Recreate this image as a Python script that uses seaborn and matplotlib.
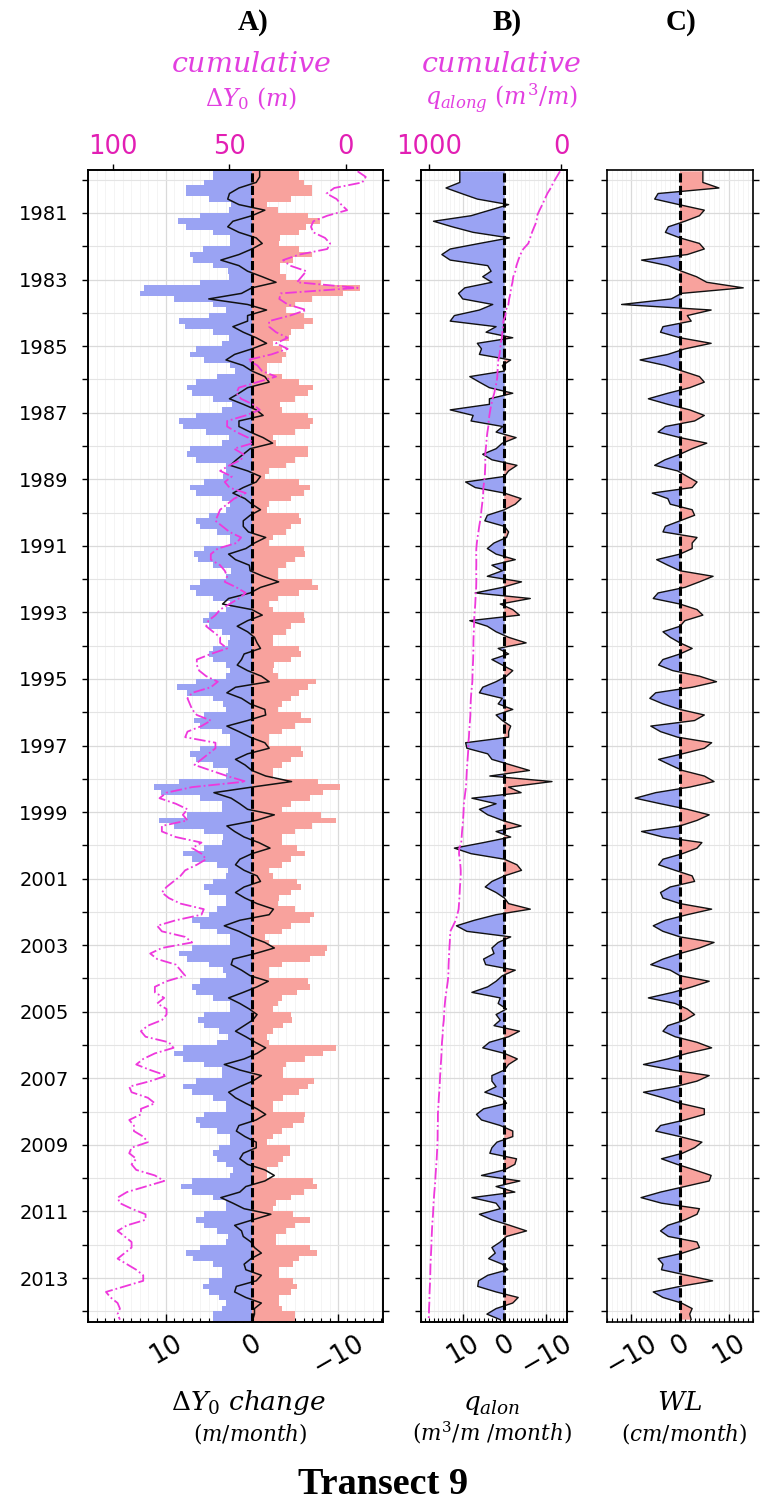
import numpy as np
import matplotlib
matplotlib.use("Agg")
import matplotlib.pyplot as plt
from matplotlib.ticker import FixedLocator, MultipleLocator, NullLocator, FuncFormatter
import seaborn as sns

# ---------------------------------------------------------------------------
# Two-monthly series, Sep 1979 ... Apr 2014 (one row per calendar year)
# ---------------------------------------------------------------------------
# Shoreline change envelope: accretion side (m/month)
dy_gain = np.array([
    4.5, 4.5,
    5.5, 7.6, 7.6, 5.0, 2.4, 2.6,
    6.0, 8.6, 7.6, 4.5, 2.5, 2.5,
    5.7, 7.2, 6.8, 4.5, 2.8, 2.6,
    6.0, 12.5, 13.0, 9.0, 4.5, 3.0,
    5.0, 8.4, 7.8, 4.5, 2.6, 3.5,
    6.5, 7.2, 5.5, 2.5, 2.0, 4.0,
    6.5, 7.5, 7.0, 4.5, 2.3, 3.5,
    6.5, 8.4, 8.0, 5.3, 2.6, 3.5,
    7.2, 7.5, 6.5, 3.0, 3.0, 3.4,
    5.5, 7.2, 6.5, 3.5, 2.5, 3.0,
    5.0, 6.5, 6.0, 4.0, 2.5, 2.5,
    5.5, 6.7, 6.2, 4.5, 2.4, 3.0,
    6.0, 7.2, 6.5, 4.5, 2.5, 3.0,
    5.0, 5.7, 5.0, 3.5, 2.5, 2.8,
    4.5, 5.0, 4.5, 3.0, 2.5, 3.0,
    6.5, 8.7, 7.5, 4.5, 3.3, 3.0,
    5.5, 6.7, 6.0, 3.5, 2.5, 2.5,
    6.0, 7.2, 6.5, 4.5, 2.8, 3.0,
    8.5, 11.3, 10.5, 6.0, 3.5, 3.5,
    7.5, 10.8, 9.0, 5.5, 3.3, 3.5,
    5.5, 8.0, 7.0, 4.0, 2.8, 3.0,
    4.5, 5.5, 5.0, 3.0, 3.0, 4.0,
    5.0, 7.0, 6.0, 4.0, 2.5, 2.5,
    7.0, 8.5, 7.5, 5.0, 3.3, 3.0,
    6.0, 7.0, 6.5, 4.5, 2.5, 2.5,
    5.5, 6.2, 5.5, 3.8, 2.8, 4.0,
    8.0, 9.0, 8.0, 5.5, 3.5, 3.5,
    6.5, 8.0, 7.0, 4.5, 3.0, 3.0,
    5.5, 6.5, 6.0, 4.0, 2.5, 2.5,
    3.8, 4.5, 4.0, 3.0, 2.2, 2.5,
    7.0, 8.2, 7.0, 4.5, 3.0, 3.0,
    5.5, 6.5, 5.5, 4.0, 2.8, 3.0,
    6.0, 7.6, 6.8, 4.5, 3.5, 3.5,
    5.0, 5.7, 5.0, 3.8, 3.0, 3.5,
    4.5, 4.5,
])

# Shoreline change envelope: erosion side (m/month)
dy_loss = np.array([
    -5.5, -5.5,
    -6.0, -7.0, -7.0, -4.5, -1.8, -3.0,
    -6.5, -7.9, -6.3, -5.5, -3.3, -3.2,
    -5.5, -7.0, -4.8, -3.3, -3.3, -4.0,
    -8.0, -12.5, -10.6, -7.0, -5.0, -4.0,
    -6.0, -7.1, -6.0, -4.5, -4.3, -2.5,
    -3.5, -4.0, -3.5, -1.8, -1.8, -3.5,
    -5.5, -7.1, -6.5, -5.0, -3.3, -3.5,
    -6.5, -7.1, -6.7, -5.0, -2.5, -2.8,
    -6.5, -6.5, -5.0, -4.0, -2.0, -1.5,
    -5.5, -6.7, -6.0, -4.5, -2.0, -1.8,
    -5.5, -5.7, -4.5, -4.0, -2.5, -2.0,
    -6.0, -6.2, -5.0, -4.0, -3.0, -3.0,
    -7.0, -7.7, -5.5, -3.0, -2.0, -2.5,
    -6.0, -6.2, -4.5, -4.0, -2.5, -2.5,
    -5.5, -5.7, -4.5, -2.6, -2.5, -3.0,
    -7.4, -6.5, -5.5, -4.5, -3.5, -3.0,
    -5.7, -6.9, -5.0, -3.5, -2.0, -2.0,
    -5.7, -5.9, -4.5, -3.5, -2.5, -2.5,
    -7.7, -10.2, -8.2, -6.7, -4.5, -3.5,
    -8.0, -9.7, -7.0, -5.0, -3.5, -3.5,
    -5.2, -6.2, -4.5, -3.5, -2.0, -2.5,
    -5.2, -5.7, -4.5, -3.2, -3.0, -5.0,
    -7.2, -6.7, -4.5, -3.5, -1.5, -2.0,
    -8.7, -8.5, -6.7, -3.5, -2.0, -2.0,
    -6.5, -6.7, -5.2, -3.5, -3.0, -2.5,
    -4.5, -4.6, -3.6, -2.5, -1.8, -2.0,
    -9.7, -8.2, -6.2, -4.0, -3.6, -3.6,
    -7.2, -6.5, -5.5, -3.6, -2.5, -2.5,
    -6.2, -6.0, -4.8, -3.5, -2.5, -1.8,
    -4.4, -4.4, -3.6, -3.0, -1.8, -1.8,
    -7.1, -7.5, -6.0, -4.5, -2.8, -2.5,
    -4.8, -6.7, -5.0, -4.0, -2.8, -2.8,
    -6.7, -7.5, -5.5, -4.8, -3.2, -3.2,
    -4.8, -5.2, -4.5, -3.2, -3.2, -3.5,
    -5.0, -5.0,
])

# Net shoreline change (m/month)
dy_net = np.array([
    -0.9, -0.9,
    -0.5, 1.5, 2.6, 2.8, 1.5, -1.5,
    0.0, 2.2, 2.8, 1.5, -0.5, -1.2,
    0.0, 1.5, 3.6, 1.5, 0.5, -1.2,
    -2.8, 0.0, 1.2, 5.0, 0.5, -1.7,
    0.5, 0.5, 2.2, 1.0, -0.5, -1.7,
    0.0, 2.0, 3.0, 1.0, 0.0, -1.5,
    -2.0, 0.5, 1.5, 2.6, 1.0, -0.5,
    -1.3, 1.5, 1.5, 0.2, -1.3, -2.4,
    0.2, 1.0, 1.8, 2.5, 0.5, -1.0,
    -0.5, 1.0, 2.2, 0.8, 0.0, -1.0,
    0.2, 1.0, 1.0, 0.4, -1.6, -0.3,
    0.7, 2.7, 1.9, 0.3, 0.2, -1.3,
    -3.1, -1.0, 0.2, 2.7, 3.4, 0.0,
    -1.2, 0.5, 1.7, 0.5, -0.3, -0.6,
    -1.0, 0.9, 1.2, 1.7, 0.5, -1.1,
    -2.0, 1.9, 2.9, 1.2, 0.2, -1.5,
    -1.6, 0.5, 2.9, 1.5, 0.2, -1.5,
    -2.0, 0.5, 1.9, 0.8, 0.0, -1.6,
    -4.6, 0.0, 4.4, 2.4, 1.4, 0.5,
    -2.6, -0.5, 2.9, 2.0, 0.9, -0.8,
    -2.1, 0.0, 1.4, 1.9, 0.9, -0.6,
    -1.0, 0.9, 1.9, 0.8, -0.6, -2.5,
    -2.0, 1.4, 3.2, 1.5, 0.2, -1.5,
    -2.6, -0.4, 2.2, 2.4, 1.2, 0.2,
    -1.9, -0.6, 1.0, 2.7, 1.4, 0.3,
    -0.6, -0.1, 0.9, 1.9, 0.7, -0.4,
    -1.6, -0.6, 0.9, 3.2, 1.4, -1.1,
    -0.1, 1.4, 2.7, 1.9, 0.7, -0.6,
    -1.6, -0.5, 1.5, 1.8, 0.8, -0.5,
    -0.5, 1.0, 1.4, 0.5, -1.5, -2.6,
    -1.5, 0.7, 1.4, 3.6, 2.2, 0.9,
    -2.2, -0.1, 2.0, 1.2, 1.0, 0.1,
    -0.3, -1.1, 0.1, 0.9, 0.7, -1.1,
    -0.5, 1.8, 2.0, 0.7, -1.1, -0.3,
    -0.3, -0.1,
])

# Cumulative shoreline change (m)
dy_cum = np.array([
    -5, -8.5,
    -7, 5, 8.3, 4, 2, -0.5,
    8, 14, 15, 14, 9, 6.8,
    8, 20, 27, 24, 17, 19,
    21, -5, 28, 28.6, 25, 17,
    24, 33, 33, 30, 25, 30,
    25, 32, 42, 38, 36, 30,
    38, 46, 47, 45, 40, 37,
    43, 51, 51, 47, 42, 40,
    48, 44, 45, 50, 54, 49,
    52, 50, 43, 48, 51, 54,
    55, 56, 53, 50, 45, 47,
    55, 58, 58, 54, 52, 51,
    52, 47, 43, 46, 50, 54,
    56, 59, 60, 57, 54, 54,
    51, 58, 64, 64, 63, 60,
    55, 58, 66, 68, 67, 66,
    64, 58, 62, 68, 69, 56,
    56, 59, 62, 65, 58, 51,
    43, 66, 77, 80, 73, 68,
    70, 68, 79, 79, 73, 62,
    66, 62, 60, 64, 69, 71,
    74, 77, 79, 76, 71, 61,
    62, 73, 81, 79, 69, 66,
    79, 84, 81, 73, 71, 69,
    77, 82, 82, 78, 81, 77,
    77, 79, 85, 88, 86, 76,
    74, 82, 87, 90, 84, 77,
    84, 93, 92, 85, 82, 88,
    88, 93, 91, 91, 87, 85,
    92, 93, 90, 92, 90, 82,
    78, 86, 94, 98, 97, 92,
    86, 86, 94, 98, 95, 92,
    92, 95, 98, 94, 90, 87,
    87, 95, 103, 101, 98, 97,
    98, 97,
])

# Longshore transport (m3/m/month)
q_along = np.array([
    10.7, 10.7,
    10.7, 14.0, 10.3, 6.5, -1.0, 3.5,
    8.0, 17.0, 12.5, 7.5, -1.2, 6.0,
    13.0, 15.0, 13.0, 4.0, 3.2, 5.2,
    3.0, 9.5, 11.0, 10.0, 2.8, 6.0,
    12.0, 13.0, 2.0, 4.4, -2.0, 6.5,
    5.5, 6.0, -1.5, 0.5, 0.0, 8.3,
    6.0, 3.6, -2.0, 3.6, 3.6, 13.0,
    7.5, 8.0, 0.4, 2.0, -2.8, 0.5,
    2.0, 5.2, 3.0, -3.0, -1.0, 0.0,
    9.3, 7.0, 0.0, -4.0, -2.6, 0.0,
    4.1, 4.7, 0.0, -1.0, -0.5, 2.5,
    4.1, 2.0, -2.6, 3.0, 0.5, 4.1,
    -4.1, 0.5, 7.0, -6.2, 1.0, -2.0,
    -3.6, 8.3, 4.1, 2.0, -1.0, -5.2,
    1.5, -1.0, 3.0, 0.5, -2.0, -0.5,
    2.0, 5.2, 6.0, 0.5, 1.5, -2.0,
    2.0, 0.5, -1.5, -1.0, -1.0, 9.3,
    9.0, 4.0, 3.0, -1.5, -6.0, 3.5,
    -11.4, -1.0, -4.0, 7.8, 2.0, 6.0,
    4.0, 0.5, -4.0, 2.0, -1.5, 5.0,
    12.0, 8.0, 0.0, -3.0, -4.1, 0.0,
    3.0, 4.6, 2.0, 0.0, -1.0, -6.2,
    2.0, 7.2, 11.5, 9.0, -1.5, 1.5,
    3.0, 2.5, 5.0, 4.5, -2.6, 0.5,
    2.0, 4.0, 7.8, 1.0, 1.5, -0.5,
    2.0, 1.0, 2.5, -3.6, -1.0, 3.6,
    5.2, 0.0, -3.1, -1.0, 0.0, 3.0,
    3.0, 2.0, 4.7, 0.5, -0.5, 5.0,
    6.7, 5.5, 1.0, -2.0, -2.0, 1.8,
    3.0, 3.5, -2.9, -2.5, 0.0, 5.5,
    -3.7, 2.0, -2.5, 7.8, 2.0, 1.0,
    6.0, 3.0, -1.3, -5.3, -0.5, 1.0,
    3.0, 2.2, 3.8, 0.5, -0.8, 4.0,
    6.2, 6.4, 2.0, -3.3, -2.0, 2.0,
    4.2, 1.0,
])

# Cumulative longshore transport (m3/m)
q_cum = np.array([
    10, 35,
    60, 80, 106, 125, 144, 165,
    184, 187, 205, 222, 236, 250,
    288, 310, 326, 340, 348, 364,
    370, 380, 386, 395, 401, 420,
    424, 439, 442, 447, 450, 460,
    462, 468, 477, 480, 483, 485,
    490, 500, 508, 520, 530, 538,
    545, 550, 553, 560, 565, 568,
    572, 576, 576, 576, 578, 580,
    585, 590, 592, 595, 600, 605,
    609, 615, 622, 628, 635, 640,
    644, 645, 644, 644, 645, 644,
    644, 645, 648, 650, 652, 655,
    659, 660, 662, 663, 665, 666,
    666, 667, 668, 670, 672, 673,
    674, 678, 682, 685, 687, 689,
    689, 692, 695, 698, 700, 704,
    704, 707, 710, 713, 716, 718,
    720, 722, 728, 733, 738, 740,
    742, 745, 748, 752, 755, 758,
    773, 775, 770, 765, 762, 762,
    765, 768, 770, 772, 775, 778,
    788, 800, 820, 841, 843, 845,
    848, 850, 852, 854, 855, 856,
    860, 866, 872, 878, 882, 886,
    888, 890, 895, 898, 900, 904,
    906, 908, 910, 913, 915, 918,
    920, 922, 925, 928, 930, 933,
    935, 935, 936, 937, 937, 938,
    940, 942, 944, 947, 950, 953,
    955, 958, 962, 965, 968, 970,
    972, 975, 978, 980, 982, 984,
    985, 987, 989, 991, 992, 993,
    994, 996, 998, 999, 1000, 1002,
    1003, 1005,
])

# Water level change (cm/month)
wl = np.array([
    4.7, 4.7,
    4.7, 8.0, -4.5, -5.2, -0.2, 5.0,
    4.0, 1.0, -2.4, -3.0, 0.0, 4.0,
    5.0, 1.5, -7.9, -2.5, 0.3, 3.4,
    5.5, 13.0, 0.3, -1.8, -12.0, 6.4,
    1.5, 2.3, -3.5, -4.0, 0.0, 6.4,
    1.0, -2.5, -8.2, -3.0, 0.5, 4.0,
    5.0, 2.0, -2.5, -6.5, -2.5, 2.0,
    5.0, 3.0, -3.0, -4.5, 0.0, 5.5,
    2.5, 0.0, -3.1, -5.2, -0.5, 1.5,
    3.5, 2.5, -5.7, -2.5, -2.0, 2.5,
    3.0, 0.0, -3.0, -3.5, 3.5, 2.5,
    2.5, 0.0, -4.8, -2.5, 0.0, 6.8,
    4.0, 1.0, -4.5, -5.5, 0.0, 3.5,
    4.7, 1.0, 0.0, -3.5, -2.0, 0.0,
    2.5, 0.0, -3.5, -4.4, -1.5, 4.0,
    7.5, 2.5, -5.0, -6.2, -3.5, 0.0,
    5.0, 3.0, -6.0, -4.0, -0.5, 6.5,
    5.0, 0.5, -4.4, -2.0, 0.5, 5.0,
    7.0, 2.0, -5.0, -9.2, -4.0, 1.5,
    6.0, 3.5, 0.0, -7.9, -3.5, 4.5,
    3.5, 0.5, -3.5, -4.4, -1.0, 2.5,
    3.0, -2.0, -4.0, -3.5, 0.0, 6.5,
    1.5, -3.0, -5.5, -3.5, 0.0, 7.0,
    4.0, 0.0, -3.5, -6.0, -2.0, 0.0,
    6.0, 2.5, -1.5, -6.5, -1.0, 1.5,
    3.0, 1.0, -2.5, -3.5, -1.0, 3.5,
    6.5, 1.5, -2.5, -7.5, -1.5, 6.0,
    3.5, -1.0, -7.5, -3.5, 0.0, 5.0,
    5.0, 1.0, -4.0, -5.0, 0.0, 4.5,
    3.0, 0.5, -3.8, -0.6, 3.0, 6.4,
    6.0, 1.0, -4.0, -8.0, -3.8, 4.0,
    3.5, 1.0, -2.5, -4.0, -2.4, 3.5,
    4.0, 0.5, -4.5, -3.5, -3.8, 1.5,
    6.7, 0.0, -5.5, -3.5, 0.3, 2.5,
    2.0, 2.3,
])

n = len(dy_gain)
for arr in (dy_loss, dy_net, dy_cum, q_along, q_cum, wl):
    assert len(arr) == n

# time axis in decimal years: two-month bins starting September 1979
t_edges = 1979 + (8 + 2 * np.arange(n + 1)) / 12.0
t_mid = t_edges[:-1] + 1.0 / 12.0

year_major = np.arange(1981, 2014, 2)
year_minor = np.arange(1980, 2015)
YEAR_TOP, YEAR_BOTTOM = 1979.71, 2014.32

BLUE = "#9aa3f3"
RED = "#f8a29d"
MAG_LINE = "#ee38dc"
MAG_TXT = "#e23fe0"
MAG_TICK = "#e21fb4"

sns.set_style("ticks")
plt.rcParams["font.family"] = ["DejaVu Sans"]
plt.rcParams["mathtext.fontset"] = "dejavuserif"
plt.rcParams["text.color"] = "black"
plt.rcParams["axes.labelcolor"] = "black"
plt.rcParams["xtick.color"] = "black"
plt.rcParams["ytick.color"] = "black"

W, H = 764, 1502
fig = plt.figure(figsize=(W / 100, H / 100), dpi=100)


def rect(x0, x1, y0=170, y1=1322):
    return [x0 / W, 1 - y1 / H, (x1 - x0) / W, (y1 - y0) / H]


axA = fig.add_axes(rect(88, 383))
axB = fig.add_axes(rect(421, 567))
axC = fig.add_axes(rect(607, 753))


def line(ax, xvals, color, lw, ls="-", z=3):
    sns.lineplot(x=xvals, y=t_mid, orient="y", sort=False, estimator=None,
                 color=color, lw=lw, ls=ls, ax=ax, zorder=z)


def zero_line(ax):
    ax.axvline(0, color="k", ls=(0, (3, 1.1)), lw=2.2, zorder=5)


def style(ax, xlim, xticks, show_years):
    ax.set_xlim(*xlim)
    ax.set_ylim(YEAR_BOTTOM, YEAR_TOP)
    ax.xaxis.set_major_locator(FixedLocator(xticks))
    ax.xaxis.set_minor_locator(MultipleLocator(1))
    ax.yaxis.set_major_locator(FixedLocator(year_major))
    ax.yaxis.set_minor_locator(FixedLocator(year_minor))
    ax.yaxis.set_major_formatter(FuncFormatter(lambda v, p: f"{int(round(v))}"))
    ax.tick_params(axis="x", which="both", direction="in", bottom=True, top=False,
                   color="black", labelcolor="black")
    ax.tick_params(axis="x", which="major", length=6, width=1, labelsize=18.5,
                   labelrotation=30, pad=6)
    ax.tick_params(axis="x", which="minor", length=3, width=0.8)
    ax.tick_params(axis="y", which="both", direction="out", left=True, right=True,
                   length=4, width=1, labelsize=14, labelleft=show_years, pad=10,
                   color="black", labelcolor="black")
    ax.grid(True, which="major", color="#dadada", lw=0.9)
    ax.grid(True, which="minor", axis="y", color="#e4e4e4", lw=0.8)
    ax.grid(True, which="minor", axis="x", color="#f3f3f3", lw=0.6)
    ax.set_axisbelow(True)
    ax.set_xlabel("")
    ax.set_ylabel("")
    for s in ax.spines.values():
        s.set_visible(True)
        s.set_linewidth(1.2)
        s.set_color("k")


def style_top(top, xlim, ticks):
    top.set_xlim(*xlim)
    top.xaxis.set_major_locator(FixedLocator(ticks))
    top.xaxis.set_minor_locator(NullLocator())
    top.tick_params(axis="x", which="major", direction="out", length=4, width=1,
                    labelsize=18.5, color="black", labelcolor=MAG_TICK, pad=3,
                    top=True, bottom=False)
    top.grid(False)
    top.set_xlabel("")
    for s in top.spines.values():
        s.set_linewidth(1.2)
        s.set_color("k")


# ---------------- A) shoreline change ----------------
axA.fill_betweenx(t_edges, 0, np.append(dy_gain, dy_gain[-1]), step="post",
                  color=BLUE, lw=0, zorder=1)
axA.fill_betweenx(t_edges, 0, np.append(dy_loss, dy_loss[-1]), step="post",
                  color=RED, lw=0, zorder=1)
line(axA, dy_net, "#111111", 1.1)
zero_line(axA)
topA = axA.twiny()
line(topA, dy_cum, MAG_LINE, 1.3, ls="-.")
style(axA, (19, -15.2), [10, 0, -10], True)
style_top(topA, (110.7, -15.9), [100, 50, 0])

# ---------------- B) longshore transport ----------------
axB.fill_betweenx(t_mid, 0, q_along, where=q_along >= 0, interpolate=True,
                  color=BLUE, lw=0, zorder=1)
axB.fill_betweenx(t_mid, 0, q_along, where=q_along <= 0, interpolate=True,
                  color=RED, lw=0, zorder=1)
line(axB, q_along, "#111111", 1.0)
zero_line(axB)
topB = axB.twiny()
line(topB, q_cum, MAG_LINE, 1.3, ls="-.")
style(axB, (20, -15), [10, 0, -10], False)
style_top(topB, (1063, -43), [1000, 0])

# ---------------- C) water level ----------------
axC.fill_betweenx(t_mid, 0, wl, where=wl <= 0, interpolate=True,
                  color=BLUE, lw=0, zorder=1)
axC.fill_betweenx(t_mid, 0, wl, where=wl >= 0, interpolate=True,
                  color=RED, lw=0, zorder=1)
line(axC, wl, "#111111", 1.0)
zero_line(axC)
style(axC, (-15, 15), [-10, 0, 10], False)

for a in (axA, axB, axC, topA, topB):
    a.set_ylim(YEAR_BOTTOM, YEAR_TOP)


# ---------------- text ----------------
def ftext(x, y, s, **kw):
    fig.text(x / W, 1 - y / H, s, ha="center", **kw)


serif_bold = dict(family="Liberation Serif", weight="bold", color="black")
ftext(253, 22, "A)", va="center", fontsize=21, **serif_bold)
ftext(507, 22, "B)", va="center", fontsize=21, **serif_bold)
ftext(681, 22, "C)", va="center", fontsize=21, **serif_bold)

ftext(251, 72, r"$cumulative$", va="baseline", fontsize=20.5, color=MAG_TXT)
ftext(251, 106, r"$\Delta Y_0\ (m)$", va="baseline", fontsize=17, color=MAG_TXT)
ftext(501, 72, r"$cumulative$", va="baseline", fontsize=20.5, color=MAG_TXT)
ftext(502, 106, r"$q_{along}\ (m^3/m)$", va="baseline", fontsize=17, color=MAG_TXT)

ftext(249, 1410, r"$\Delta Y_0\ change$", va="baseline", fontsize=19, color="black")
ftext(250, 1441, r"$(m/month)$", va="baseline", fontsize=15.5, color="black")
ftext(492, 1410, r"$q_{alon}$", va="baseline", fontsize=19, color="black")
ftext(492, 1441, r"$(m^3/m\ /month)$", va="baseline", fontsize=15.5, color="black")
ftext(680, 1410, r"$WL$", va="baseline", fontsize=19, color="black")
ftext(684, 1441, r"$(cm/month)$", va="baseline", fontsize=15.5, color="black")

ftext(383, 1484, "Transect 9", va="center", fontsize=27.5, **serif_bold)

fig.savefig("out.png", dpi=100)
